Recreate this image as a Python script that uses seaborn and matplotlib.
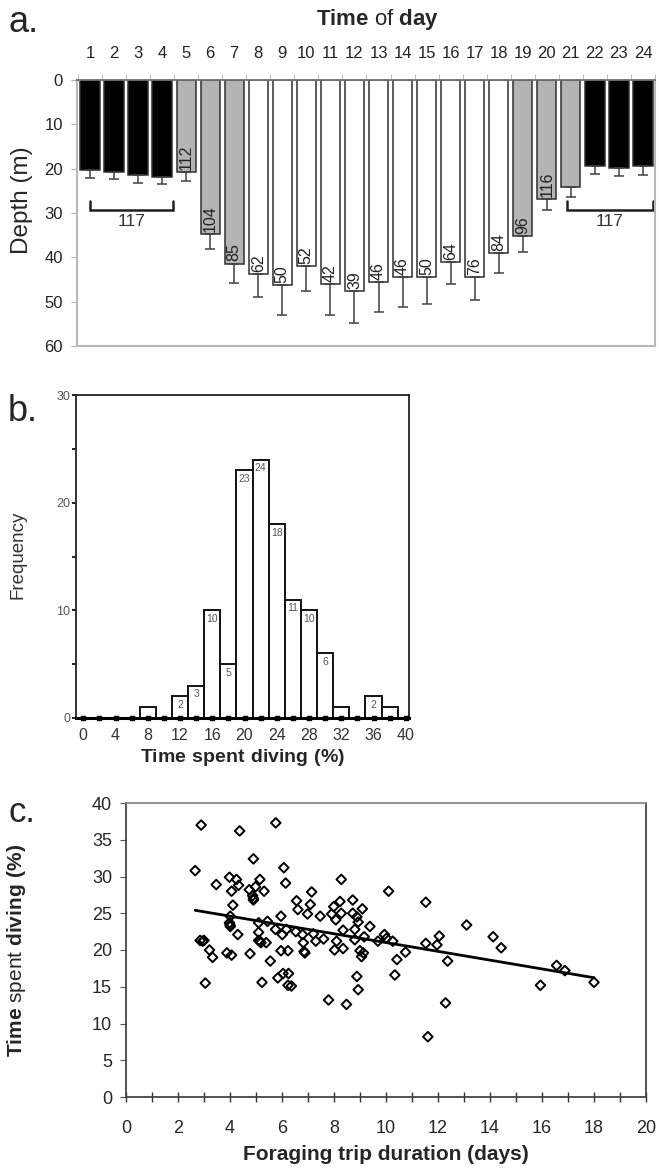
import numpy as np
import pandas as pd
import matplotlib
matplotlib.use("Agg")
import matplotlib.pyplot as plt
import seaborn as sns

# ---- panel a: mean dive depth by hour ----
hours = list(range(1, 25))
depth = [20.3, 20.7, 21.4, 21.8, 20.8, 34.8, 41.4, 43.8, 46.3, 41.9, 46.1, 47.6,
         45.6, 44.4, 44.4, 41.0, 44.5, 39.1, 35.3, 26.9, 24.2, 19.3, 19.9, 19.5]
depth_sd = [1.9, 1.7, 1.8, 1.6, 2.0, 3.4, 4.4, 5.2, 6.6, 5.6, 7.0, 7.3,
            6.8, 6.7, 6.1, 5.0, 5.1, 4.5, 3.6, 2.4, 2.1, 1.8, 1.8, 1.9]
period = ["night"] * 4 + ["twilight"] * 3 + ["day"] * 11 + ["twilight"] * 3 + ["night"] * 3
n_dives = [None, None, None, None, 112, 104, 85, 62, 50, 52, 42, 39, 46, 46,
           50, 64, 76, 84, 96, 116, None, None, None, None]
night_n = 117

# ---- panel b: frequency of time spent diving ----
pct_bins = [8, 10, 12, 14, 16, 18, 20, 22, 24, 26, 28, 30, 32, 34, 36, 38]
freq = [1, 0, 2, 3, 10, 5, 23, 24, 18, 11, 10, 6, 1, 0, 2, 1]

# ---- panel c: trip duration vs time spent diving ----
trip_days = [2.66, 2.89, 2.85, 3.0, 2.95, 3.05, 3.21, 3.33, 3.47, 3.98, 4.06, 4.11, 4.01,
             3.98, 4.01, 4.0, 3.88, 4.06, 4.30, 4.25, 4.33, 4.37, 4.74, 4.77, 4.90, 4.87,
             4.90, 4.9, 4.98, 5.15, 5.31, 5.10, 5.10, 5.10, 5.19, 5.15, 5.39, 5.23, 5.44,
             5.55, 5.75, 5.76, 5.84, 5.96, 6.01, 5.96, 6.07, 6.14, 6.17, 6.04, 6.23, 6.25,
             6.23, 6.36, 6.53, 6.56, 6.61, 6.79, 6.82, 6.88, 6.85, 6.98, 7.09, 7.14, 7.21,
             7.30, 7.47, 7.60, 7.79, 7.91, 7.99, 8.07, 8.10, 8.02, 8.23, 8.28, 8.28, 8.35,
             8.35, 8.48, 8.72, 8.72, 8.80, 8.80, 8.88, 8.93, 8.88, 8.93, 9.00, 9.06, 9.13,
             9.09, 9.16, 9.38, 9.69, 9.94, 10.02, 10.10, 10.26, 10.34, 10.42, 10.75, 11.53,
             11.53, 11.61, 11.96, 12.05, 12.29, 12.37, 13.10, 14.12, 14.43, 15.94, 16.56,
             16.88, 18.00]
dive_pct = [30.8, 37.0, 21.3, 21.3, 21.2, 15.5, 20.0, 19.0, 28.9, 29.9, 28.0, 26.1, 24.6,
            23.7, 23.2, 23.4, 19.6, 19.3, 22.1, 29.6, 28.8, 36.2, 28.2, 19.5, 32.4, 27.4,
            26.8, 27.0, 28.6, 29.6, 28.0, 23.7, 22.4, 21.3, 21.0, 21.2, 21.0, 15.6, 23.9,
            18.5, 22.8, 37.3, 16.2, 24.6, 22.1, 19.9, 31.2, 29.1, 22.8, 16.8, 19.9, 16.8,
            15.2, 15.1, 22.5, 26.7, 25.5, 22.1, 21.0, 19.6, 19.8, 24.9, 26.2, 27.9, 22.2,
            21.2, 24.6, 21.5, 13.2, 24.9, 25.9, 24.1, 21.2, 20.0, 26.6, 29.6, 25.0, 22.7,
            20.2, 12.6, 26.8, 25.0, 22.8, 21.4, 24.5, 23.8, 16.4, 14.6, 19.9, 19.1, 19.6,
            25.6, 21.8, 23.2, 21.2, 22.1, 21.6, 28.0, 21.2, 16.6, 18.7, 19.7, 26.5,
            20.9, 8.2, 20.7, 21.9, 12.8, 18.5, 23.4, 21.8, 20.3, 15.2, 17.9,
            17.2, 15.6]

W, H = 659, 1172


def box(x0, y0, x1, y1):
    return [x0 / W, 1 - y1 / H, (x1 - x0) / W, (y1 - y0) / H]


sns.set_style("white")
plt.rcParams["font.family"] = ["Liberation Sans", "DejaVu Sans"]
plt.rcParams["mathtext.fontset"] = "custom"
plt.rcParams["mathtext.rm"] = "Liberation Sans"
plt.rcParams["mathtext.bf"] = "Liberation Sans:bold"

fig = plt.figure(figsize=(W / 100, H / 100), dpi=100)

# ================= a =================
ax = fig.add_axes(box(77, 80, 655, 346))
df_a = pd.DataFrame({"hour": hours, "depth": depth, "period": period})
pal = {"night": "black", "twilight": "#b4b4b4", "day": "white"}
sns.barplot(data=df_a, x="hour", y="depth", hue="period", palette=pal, dodge=False,
            legend=False, width=0.8, edgecolor="#303030", linewidth=1.1,
            errorbar=None, ax=ax)
pos = np.arange(len(hours))
ax.errorbar(pos, depth, yerr=[np.zeros(len(depth)), depth_sd], fmt="none",
            ecolor="#404040", elinewidth=1.1, capsize=3.5, capthick=1.1, zorder=1)
for i, n in enumerate(n_dives):
    if n is not None:
        ax.text(i, depth[i] - 0.5, str(n), rotation=90, ha="center", va="bottom",
                fontsize=11.5, color="#222222")

# brackets for night hours
for x0, x1 in [(0, 3.45), (19.85, 23.4)]:
    ax.plot([x0, x0, x1, x1], [27.3, 29.3, 29.3, 27.3], color="#202020", lw=1.8,
            solid_joinstyle="miter")
    ax.text((x0 + x1) / 2, 30.2, str(night_n), ha="center", va="top",
            fontsize=12.5, color="#333333")

ax.set_ylim(60, 0)
ax.set_xlim(-0.54, 23.46)
ax.set_yticks(range(0, 61, 10))
ax.xaxis.tick_top()
ax.set_xticks(pos)
ax.set_xticklabels([str(h) for h in hours])
ax.set_xticks(np.arange(-0.5, 24, 1), minor=True)
ax.tick_params(axis="x", which="major", length=0, pad=14, labelsize=12,
               labelcolor="#222222")
ax.tick_params(axis="x", which="minor", length=4, color="#b0b0b0", top=True,
               bottom=False)
ax.tick_params(axis="y", which="major", length=4, color="#b0b0b0", left=True,
               pad=6, labelsize=12, labelcolor="#222222")
ax.set_xlabel("")
ax.set_ylabel("")
for side in ["left", "bottom", "right"]:
    ax.spines[side].set_color("#b8b8b8")
    ax.spines[side].set_linewidth(1.5)
ax.spines["top"].set_color("#707070")
ax.spines["top"].set_linewidth(1.3)

fig.text(9 / W, 1 - 32 / H, "a.", fontsize=26, ha="left", va="baseline")
fig.text(378 / W, 1 - 20 / H, r"$\mathbf{Time}$ of $\mathbf{day}$", fontsize=16,
         ha="center", va="center")
fig.text(22 / W, 1 - 200 / H, "Depth (m)", fontsize=17.5, rotation=90,
         ha="center", va="center")

# ================= b =================
bx = fig.add_axes(box(76, 395, 409, 718))
df_b = pd.DataFrame({"pct": pct_bins, "freq": freq})
sns.barplot(data=df_b, x="pct", y="freq", native_scale=True, width=1.0,
            color="white", edgecolor="#111111", linewidth=1.4, errorbar=None,
            ax=bx)
for c, f in zip(pct_bins, freq):
    if f >= 2:
        bx.text(c, f - 0.35, str(f), ha="center", va="top", fontsize=7.5,
                color="#555555")
bx.scatter(np.arange(0, 41, 2), np.zeros(21), marker="s", s=7, color="black",
           clip_on=False, zorder=5)
bx.set_xlim(-0.9, 40.4)
bx.set_ylim(0, 30)
bx.set_xticks(range(0, 41, 4))
bx.set_xticklabels([str(v) for v in range(0, 41, 4)])
bx.set_yticks([0, 10, 20, 30])
bx.set_yticks([5, 15, 25], minor=True)
bx.tick_params(axis="x", length=0, pad=7, labelsize=11.5, labelcolor="#333333")
bx.tick_params(axis="y", which="both", left=True, length=3, width=1.2,
               color="black", pad=1, labelsize=9, labelcolor="#555555")
bx.set_ylabel("")
bx.set_xlabel(r"$\mathbf{Time\ spent\ diving\ (\%)}$", fontsize=14, labelpad=3)
for side in ["left", "top", "right"]:
    bx.spines[side].set_color("#222222")
    bx.spines[side].set_linewidth(1.3)
bx.spines["bottom"].set_color("black")
bx.spines["bottom"].set_linewidth(2.2)
fig.text(8 / W, 1 - 421 / H, "b.", fontsize=26, ha="left", va="baseline")
fig.text(18 / W, 1 - 555 / H, "Frequency", fontsize=13.5, rotation=90,
         ha="center", va="center", color="#333333")

# ================= c =================
cx = fig.add_axes(box(126, 803, 646, 1097))
sns.regplot(x=trip_days, y=dive_pct, ci=None, scatter=False,
            line_kws={"color": "black", "lw": 2}, ax=cx)
sns.scatterplot(x=trip_days, y=dive_pct, marker="D", s=24, facecolors="none",
                edgecolor="black", linewidth=1.4, ax=cx, zorder=3)
cx.set_xlim(0, 20)
cx.set_ylim(0, 40)
cx.set_xticks(range(0, 21, 2))
cx.set_xticks(range(1, 20, 2), minor=True)
cx.set_yticks(range(0, 41, 5))
cx.tick_params(axis="x", which="both", bottom=True, direction="inout", length=7,
               width=1, color="#333333", pad=13, labelsize=13)
cx.tick_params(axis="y", left=True, length=4, color="#555555", pad=6, labelsize=13)
for side in cx.spines:
    cx.spines[side].set_color("#444444")
    cx.spines[side].set_linewidth(1.3)
cx.spines["top"].set_color("#888888")
cx.set_xlabel("Foraging trip duration (days)", fontsize=15, fontweight="bold",
              labelpad=6)
cx.set_ylabel("")
fig.text(17 / W, 1 - 950 / H, r"$\mathbf{Time}$ spent $\mathbf{diving\ (\%)}$",
         fontsize=15, rotation=90, ha="center", va="center")
fig.text(9 / W, 1 - 822 / H, "c.", fontsize=25, ha="left", va="baseline")

fig.savefig("out.png", dpi=100)
